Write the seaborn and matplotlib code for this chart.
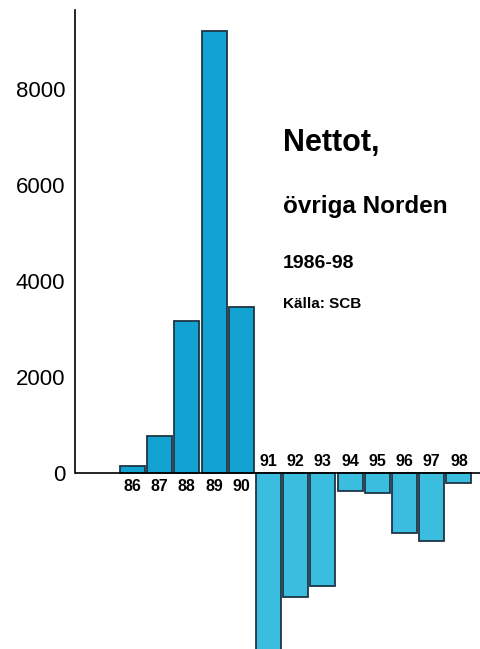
import matplotlib
matplotlib.use("Agg")
import matplotlib.pyplot as plt
import seaborn as sns
import pandas as pd

years = ["86", "87", "88", "89", "90", "91", "92", "93", "94", "95", "96", "97", "98"]
values = [150, 780, 3170, 9210, 3450, -4000, -2580, -2350, -370, -420, -1260, -1410, -215]
yticks = [0, 2000, 4000, 6000, 8000]
title_lines = ["Nettot,", "övriga Norden", "1986-98", "Källa: SCB"]

pos_color = "#12a3d3"
neg_color = "#3bbde0"
edge_color = "#1f3545"

sns.set_style("white")
plt.rcParams["font.family"] = ["Liberation Sans", "DejaVu Sans"]
plt.rcParams["text.color"] = "black"

df = pd.DataFrame({"year": years, "value": values})
palette = {y: (pos_color if v >= 0 else neg_color) for y, v in zip(years, values)}

fig = plt.figure(figsize=(4.81, 6.49), dpi=100)
ax = fig.add_axes([75 / 481, 0.0, 1 - 75 / 481, 1 - 10 / 649])

sns.barplot(data=df, x="year", y="value", hue="year", palette=palette, order=years,
            legend=False, width=0.92, edgecolor=edge_color, linewidth=1.3,
            saturation=1, ax=ax)

ax.set_xlim(-2.11, 12.81)
ax.set_ylim(-3667, 9646)
ax.set_xlabel("")
ax.set_ylabel("")
ax.set_xticks([])
ax.set_yticks(yticks)
ax.set_yticklabels([str(t) for t in yticks], fontsize=16, color="black")
ax.tick_params(axis="y", direction="in", length=9, width=1, pad=7, colors="black")

for s in ["top", "right", "bottom"]:
    ax.spines[s].set_visible(False)
ax.spines["left"].set_bounds(0, 9646)
ax.spines["left"].set_linewidth(1.2)
ax.spines["left"].set_color("black")
ax.axhline(0, color="black", lw=1.2, zorder=5)

for i, (y, v) in enumerate(zip(years, values)):
    off = -9.5 if v >= 0 else 8.5
    ax.annotate(y, xy=(i, 0), xytext=(0, off), textcoords="offset points",
                ha="center", va="center", fontsize=11.5, fontweight="bold", color="black")

sizes = [22, 17.5, 14, 11]
baselines = [150.7, 213, 268.3, 308.3]
for t, s, b in zip(title_lines, sizes, baselines):
    fig.text(283 / 481, 1 - b / 649, t, fontsize=s, fontweight="bold",
             ha="left", va="baseline", color="black")

fig.savefig("out.png", dpi=100)
